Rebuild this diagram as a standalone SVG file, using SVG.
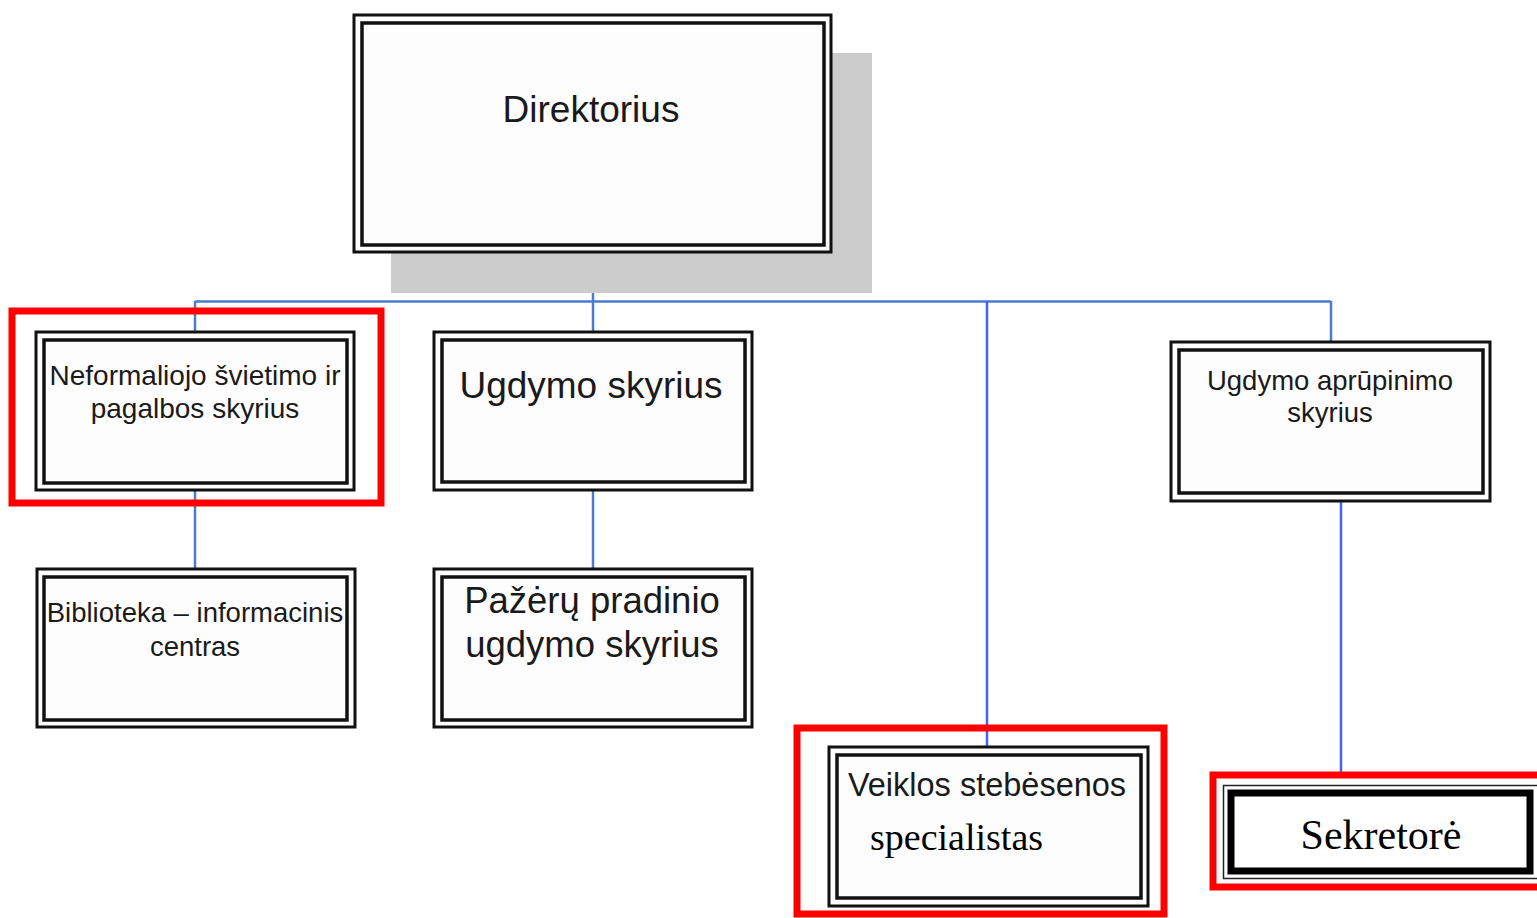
<svg xmlns="http://www.w3.org/2000/svg" width="1537" height="918" viewBox="0 0 1537 918">
<style>
.o{fill:#fdfdfd;stroke:#111;stroke-width:3}
.i{fill:none;stroke:#111;stroke-width:3.5}
.t{font-family:"Liberation Sans",Arial,sans-serif;fill:#1a1a1a;text-anchor:middle}
.s{font-family:"Liberation Serif","Times New Roman",serif;fill:#000}
.c{stroke:#4a7bd0;stroke-width:2.5;fill:none}
.c2{stroke:#4563ee;stroke-width:2.5;fill:none}
.r{fill:none;stroke:#ff0000;stroke-width:7}
</style>
<rect width="1537" height="918" fill="#ffffff"/>
<g id="connectors">
<line class="c" x1="593" y1="252" x2="593" y2="332"/>
<line class="c" x1="195" y1="301.5" x2="1331" y2="301.5"/>
<line class="c" x1="195" y1="301" x2="195" y2="332"/>
<line class="c" x1="1331" y1="301" x2="1331" y2="341"/>
<line class="c" x1="195" y1="490" x2="195" y2="569"/>
<line class="c" x1="593" y1="490" x2="593" y2="569"/>
<line class="c2" x1="987" y1="301" x2="987" y2="747"/>
<line class="c2" x1="1341" y1="487" x2="1341" y2="776"/>
</g>
<g id="direktorius">
<rect x="391" y="53" width="481" height="240" fill="#cccccc"/>
<rect class="o" x="354" y="15" width="477" height="237"/>
<rect class="i" x="362" y="23" width="462" height="222"/>
<text class="t" x="591" y="122" font-size="37">Direktorius</text>
</g>
<g id="neformaliojo">
<rect class="r" x="12" y="311" width="369" height="192"/>
<rect class="o" x="36" y="332" width="318" height="158"/>
<rect class="i" x="44" y="340" width="303" height="143"/>
<text class="t" x="195" y="385" font-size="28">Neformaliojo švietimo ir</text>
<text class="t" x="195" y="418" font-size="28">pagalbos skyrius</text>
</g>
<g id="ugdymo">
<rect class="o" x="434" y="332" width="318" height="158"/>
<rect class="i" x="442" y="340" width="303" height="142"/>
<text class="t" x="591" y="398" font-size="37">Ugdymo skyrius</text>
</g>
<g id="aprupinimo">
<rect class="o" x="1171" y="342" width="319" height="159"/>
<rect class="i" x="1179" y="350" width="304" height="143"/>
<text class="t" x="1330" y="390" font-size="27.5">Ugdymo aprūpinimo</text>
<text class="t" x="1330" y="422" font-size="27.5">skyrius</text>
</g>
<g id="biblioteka">
<rect class="o" x="37" y="569" width="318" height="158"/>
<rect class="i" x="44" y="577" width="303" height="143"/>
<text class="t" x="195" y="622" font-size="27.5">Biblioteka – informacinis</text>
<text class="t" x="195" y="656" font-size="27.5">centras</text>
</g>
<g id="pazeru">
<rect class="o" x="434" y="569" width="318" height="158"/>
<rect class="i" x="442" y="577" width="303" height="143"/>
<text class="t" x="592" y="613" font-size="36.5">Pažėrų pradinio</text>
<text class="t" x="592" y="657" font-size="36.5">ugdymo skyrius</text>
</g>
<g id="veiklos">
<rect class="r" x="797" y="728" width="367" height="186"/>
<rect class="o" x="829" y="747" width="319" height="159"/>
<rect class="i" x="837" y="755" width="304" height="143"/>
<text class="t" x="987" y="796" font-size="32.5">Veiklos stebėsenos</text>
<text class="s" x="870" y="850" font-size="38">specialistas</text>
</g>
<g id="sekretore">
<rect class="r" x="1213" y="775" width="340" height="112"/>
<rect x="1223.5" y="785.5" width="330" height="93" fill="#fff" stroke="#222" stroke-width="1.5"/>
<rect x="1231" y="793" width="299" height="78" fill="#fff" stroke="#000" stroke-width="7"/>
<text class="s" x="1381" y="849" font-size="42" text-anchor="middle">Sekretorė</text>
</g>
</svg>
